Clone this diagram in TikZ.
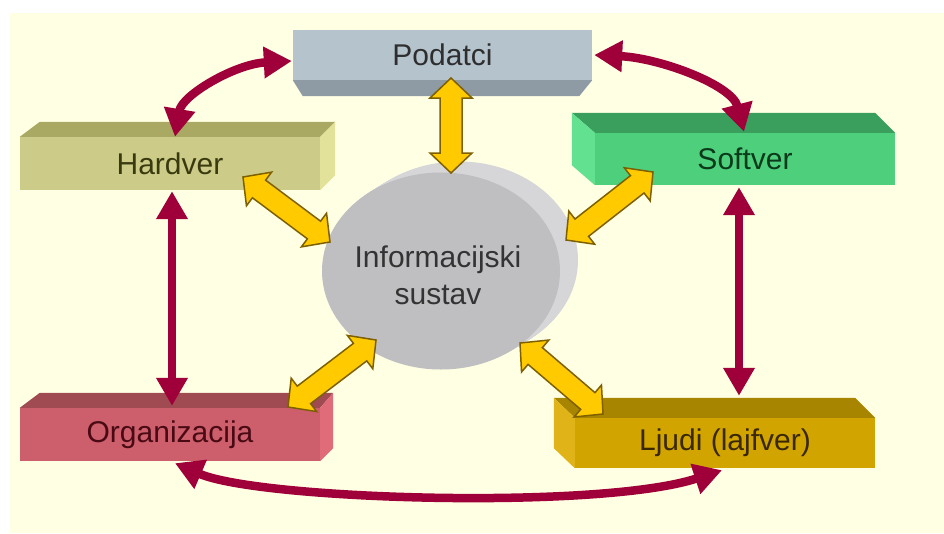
\documentclass[tikz,border=0pt]{standalone}
\usepackage{fontspec}
\setmainfont{Liberation Sans}
\usetikzlibrary{arrows.meta,calc}
\definecolor{cream}{HTML}{FFFFE3}
\definecolor{pdfront}{HTML}{B5C3CD}
\definecolor{pdbottom}{HTML}{8E9BA5}
\definecolor{hwfront}{HTML}{CCCC88}
\definecolor{hwtop}{HTML}{A9A964}
\definecolor{hwside}{HTML}{E2E29A}
\definecolor{swfront}{HTML}{4DCF7C}
\definecolor{swtop}{HTML}{3A9E5C}
\definecolor{swside}{HTML}{62E290}
\definecolor{orgfront}{HTML}{CC5F6B}
\definecolor{orgtop}{HTML}{A04A52}
\definecolor{orgside}{HTML}{E06C7A}
\definecolor{ljfront}{HTML}{D2A400}
\definecolor{ljtop}{HTML}{A88500}
\definecolor{ljside}{HTML}{E0B418}
\definecolor{cylside}{HTML}{D6D6D9}
\definecolor{cylfront}{HTML}{BFBFC2}
\definecolor{redarr}{HTML}{A0003A}
\definecolor{yelfill}{HTML}{FFCA00}
\definecolor{yeldraw}{HTML}{7E6000}
\newcommand{\yarrowdraw}[2]{%
  \coordinate (ya) at ($(#1)!20pt!(#2)$);
  \coordinate (yb) at ($(#2)!20pt!(#1)$);
  \draw[yarr] (#1) -- ($(ya)!21pt!90:(#2)$) -- ($(ya)!11pt!90:(#2)$)
    -- ($(yb)!11pt!-90:(#1)$) -- ($(yb)!21pt!-90:(#1)$) -- (#2)
    -- ($(yb)!21pt!90:(#1)$) -- ($(yb)!11pt!90:(#1)$)
    -- ($(ya)!11pt!-90:(#2)$) -- ($(ya)!21pt!-90:(#2)$) -- cycle;}
\begin{document}
\begin{tikzpicture}[x=1pt,y=-1pt,
  lab/.style={font=\fontsize{30}{37}\selectfont},
  boxfront/.style={minimum width=300pt,inner sep=0pt,lab},
  redarrow/.style={draw=redarr,line width=8.5pt,{Triangle[width=30pt,length=28pt]}-{Triangle[width=30pt,length=28pt]}},
  yarr/.style={fill=yelfill,draw=yeldraw,line width=1.5pt,line join=miter}]
\useasboundingbox (0,0) rectangle (944,533);
\fill[white] (0,0) rectangle (944,533);
\fill[cream] (10,13) rectangle (944,533);

% boxes
\node[boxfront,minimum width=299pt,minimum height=50pt,fill=pdfront,text=black!82] (pd) at (442.5,55) {Podatci};
\fill[pdbottom] (pd.south west) -- (pd.south east) -- ++(-13,16) -- ($(pd.south west)+(10,16)$) -- cycle;

\node[boxfront,minimum height=53pt,fill=hwfront,text={rgb,255:red,58;green,58;blue,16}] (hw) at (170,163.5) {Hardver};
\fill[hwtop] (hw.north west) -- ++(20,-15) -- ($(hw.north east)+(15,-15)$) -- (hw.north east) -- cycle;
\fill[hwside] (hw.north east) -- ++(15,-15) -- ($(hw.south east)+(15,-15)$) -- (hw.south east) -- cycle;

\node[boxfront,minimum height=52pt,fill=swfront,text={rgb,255:red,10;green,58;blue,26}] (sw) at (745,159) {Softver};
\fill[swtop] (sw.north west) -- ++(-23,-20) -- ($(sw.north east)+(-20,-20)$) -- (sw.north east) -- cycle;
\fill[swside] (sw.north west) -- ++(-23,-20) -- ($(sw.south west)+(-23,-20)$) -- (sw.south west) -- cycle;

\node[boxfront,minimum height=53pt,fill=orgfront,text={rgb,255:red,74;green,10;blue,20}] (org) at (170,434.5) {Organizacija};
\fill[orgtop] (org.north west) -- ++(20,-15) -- ($(org.north east)+(13,-15)$) -- (org.north east) -- cycle;
\fill[orgside] (org.north east) -- ++(13,-15) -- ($(org.south east)+(13,-13)$) -- (org.south east) -- cycle;

\node[boxfront,minimum height=50pt,fill=ljfront,text={rgb,255:red,58;green,40;blue,0}] (lj) at (725,443) {Ljudi (lajfver)};
\fill[ljtop] (lj.north west) -- ++(-21,-20) -- ($(lj.north east)+(-20,-20)$) -- (lj.north east) -- cycle;
\fill[ljside] (lj.north west) -- ++(-21,-20) -- ($(lj.south west)+(-21,-20)$) -- (lj.south west) -- cycle;

% central disc
\foreach \i in {18,17,...,1} {
  \fill[cylside] ({441+\i},{271-0.611*\i}) ellipse [x radius=119,y radius=98.5];
}
\fill[cylfront] (441,271) ellipse [x radius=119,y radius=98.5];
\node[lab,align=center,text=black!80,inner sep=0pt] (is) at (438,275) {Informacijski\\sustav};

% red arrows
\draw[redarrow] ($(hw.north)+(5,0)$) .. controls (182,95) and (235,64) .. ($(pd.west)+(-1,6)$);
\draw[redarrow] ($(pd.east)+(2,0)$) .. controls (660,58) and (732,85) .. ($(sw.north)+(-1,-1)$);
\draw[redarrow] ($(hw.south)+(2,1)$) -- ($(org.north)+(2,-2)$);
\draw[redarrow] ($(sw.south)+(-6,2)$) -- ($(lj.north)+(14,-22)$);
\draw[redarrow] ($(org.south)+(5,2)$) .. controls (260,500) and (600,510) .. ($(lj.south)+(-3,2)$);

% yellow block arrows
\coordinate (pdA) at (451,78);   \coordinate (pdB) at (451,173);
\coordinate (hwA) at (243,177);  \coordinate (hwB) at (330,242);
\coordinate (swA) at (653,172);  \coordinate (swB) at (566,240);
\coordinate (orgA) at (288,407); \coordinate (orgB) at (376,340);
\coordinate (ljA) at (520,343);  \coordinate (ljB) at (603,414);
\yarrowdraw{pdA}{pdB}
\yarrowdraw{hwA}{hwB}
\yarrowdraw{swA}{swB}
\yarrowdraw{orgA}{orgB}
\yarrowdraw{ljA}{ljB}
\end{tikzpicture}
\end{document}
